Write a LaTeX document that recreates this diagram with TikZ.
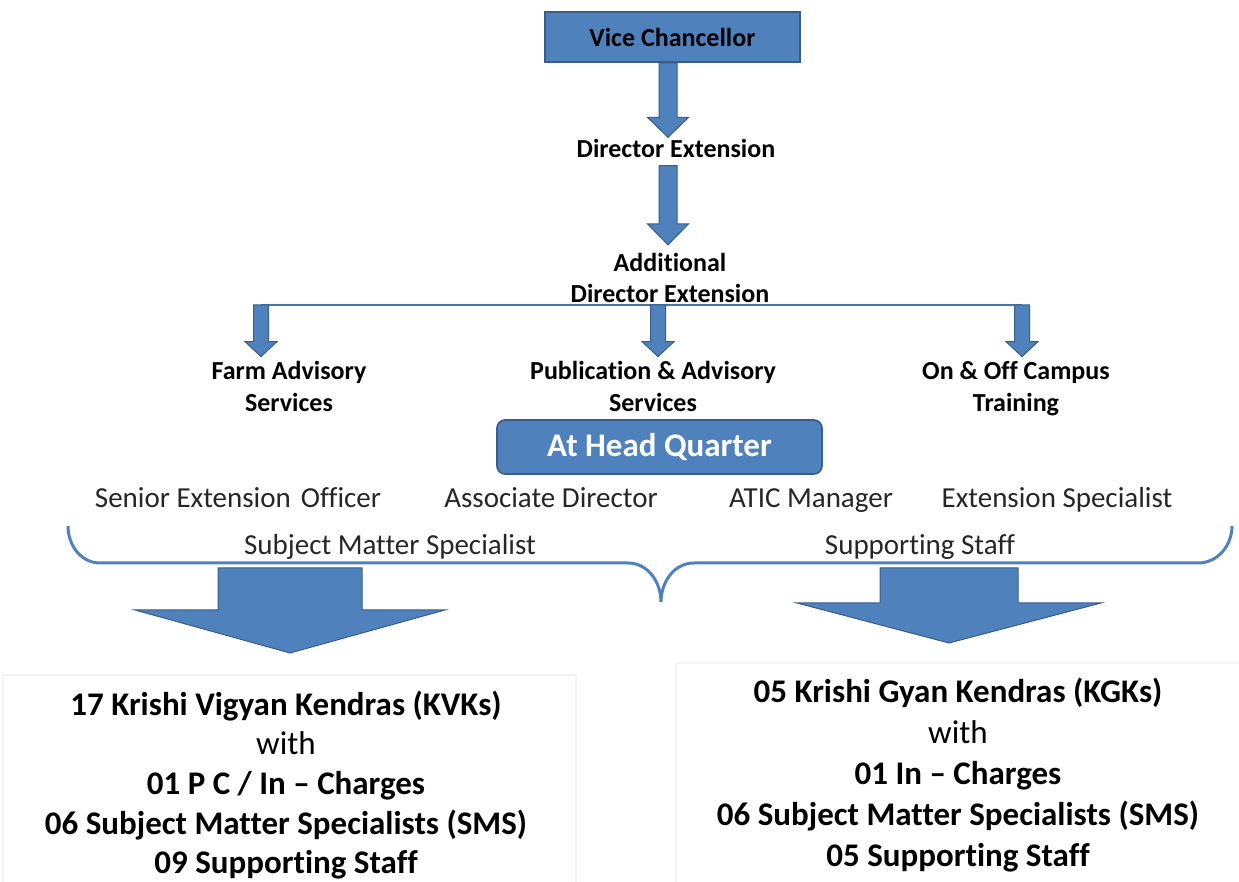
\documentclass[tikz,border=0pt]{standalone}
\usepackage{fontspec}
\setmainfont{Carlito}[Ligatures = {TeX, NoCommon}]
\usepackage{tikz}
\usetikzlibrary{positioning, calc}
\definecolor{boxblue}{HTML}{4F81BD}
\definecolor{boxedge}{HTML}{385D8A}
\definecolor{panelgrey}{HTML}{F4F4F4}

% block arrow: top, tip, half shaft, half head, head length
\newcommand{\blockarrow}[5]{%
  \draw  [fill = boxblue, draw = boxedge, line width = 0.5pt]
    ($(#1) + (-#3,0)$) -- ($(#1) + (#3,0)$) -- ($(#2) + (#3,-#5)$)
    -- ($(#2) + (#4,-#5)$) -- (#2) -- ($(#2) + (-#4,-#5)$)
    -- ($(#2) + (-#3,-#5)$) -- cycle;}

\begin{document}
\begin{tikzpicture}[
    x = 0.5pt, y = -0.5pt,
    headbox/.style = {
      rectangle, draw = boxedge, fill = boxblue, line width = 0.8pt,
      minimum width = 127.5pt, minimum height = 25pt,
      font = \fontsize{13}{16}\selectfont\bfseries
    },
    hqbox/.style = {
      rectangle, rounded corners = 4pt, draw = boxedge, fill = boxblue,
      line width = 0.8pt, text = white,
      minimum width = 162.5pt, minimum height = 27pt,
      font = \fontsize{16.5}{20}\selectfont\bfseries
    },
    rank/.style = {
      align = center, inner sep = 1pt,
      font = \fontsize{13}{15.5}\selectfont\bfseries
    },
    service/.style = {
      rank, font = \fontsize{13}{16}\selectfont\bfseries
    },
    staff/.style = {
      inner sep = 1pt, text = black!85, text height = 11pt, text depth = 3.5pt,
      font = \fontsize{14.5}{17}\selectfont
    },
    centre/.style = {
      align = center, inner sep = 1pt,
      font = \fontsize{16.5}{19.8}\selectfont\bfseries
    },
    branch/.style = {
      draw = boxblue!90!black, line width = 0.8pt
    },
    curlybrace/.style = {
      draw = boxblue, line width = 1.5pt
    },
    panel/.style = {
      draw = panelgrey, fill = white, line width = 0.6pt
    },
    ]

    \useasboundingbox  (0,0)  rectangle  (1239,882);

    % faint panels behind the unit lists
    \draw  [panel]  (3,675)  rectangle  (576,884);
    \draw  [panel]  (676,663)  rectangle  (1241,884);

    % draw the chain of command
    \node  [headbox]  (vc)  at (672.5,37)  {Vice Chancellor};
    \node  [rank]  (dirext)  at (676,148)  {Director Extension};
    \node  [rank]  (adddir)  at (670,278)  {Additional\\Director Extension};

    \coordinate  (spine)  at (668,0);
    \coordinate  (a1-top)  at (vc.south -| spine);
    \coordinate  (a1-tip)  at ($(dirext.north -| spine) + (0,1)$);
    \coordinate  (a2-top)  at ($(dirext.south -| spine) + (0,6)$);
    \coordinate  (a2-tip)  at ($(adddir.north -| spine) + (0,-6)$);
    \blockarrow{a1-top}{a1-tip}{9}{20.5}{20}
    \blockarrow{a2-top}{a2-tip}{9}{20.5}{21}

    % draw the three services
    \node  [service]  (farm)  at (289,389)  {\strut Farm Advisory\\Services\strut};
    \node  [service]  (pub)  at (653,389)  {\strut Publication \& Advisory\\Services\strut};
    \node  [service]  (camp)  at (1016,389)  {\strut On \& Off Campus\\Training\strut};

    \coordinate  (farm-in)  at (261,305);
    \coordinate  (pub-in)  at (658,305);
    \coordinate  (camp-in)  at (1022,305);
    \draw  [branch]  (farm-in)  --  (camp-in);
    \foreach \s in {farm, pub, camp} {
      \coordinate  (\s-tip)  at ($(\s-in |- \s.north) + (0,2)$);
      \blockarrow{\s-in}{\s-tip}{7.5}{16}{15}
    }

    % draw head quarter staff
    \node  [hqbox]  (hq)  at (659.5,447)  {At Head Quarter};
    \node  [staff]  (seo)  at (238,500)  {Senior Extension\hspace{0.12em} Officer};
    \node  [staff]  (ad)  at (551,500)  {Associate Director};
    \node  [staff]  (atic)  at (811,500)  {ATIC Manager};
    \node  [staff]  (es)  at (1057,500)  {Extension Specialist};
    \node  [staff]  (sms)  at (390,547)  {Subject Matter Specialist};
    \node  [staff]  (ss)  at (920,547)  {Supporting Staff};

    \draw  [curlybrace]  (68,526)  to [out = -90, in = 180]  (100,563)  --  (628,563)
      to [out = 0, in = 90]  (661,602)  to [out = 90, in = 180]  (694,563)
      --  (1198,563)  to [out = 0, in = -90]  (1232,526);

    % draw the field units
    \node  [centre]  (kvk)  at (286,785)  {17 Krishi Vigyan Kendras (KVKs)\\{\mdseries with}\\01 P C / In -- Charges\\06 Subject Matter Specialists (SMS)\\09 Supporting Staff};
    \node  [centre, font = \fontsize{16.5}{20.4}\selectfont\bfseries]  (kgk)  at (958,775)  {05 Krishi Gyan Kendras (KGKs)\\{\mdseries with}\\01 In -- Charges\\06 Subject Matter Specialists (SMS)\\05 Supporting Staff};

    \coordinate  (kvk-in)  at (290,568);
    \coordinate  (kvk-tip)  at (290,653);
    \coordinate  (kgk-in)  at (949,568);
    \coordinate  (kgk-tip)  at (949,643);
    \blockarrow{kvk-in}{kvk-tip}{72}{155}{43}
    \blockarrow{kgk-in}{kgk-tip}{69}{152}{40}

\end{tikzpicture}
\end{document}
